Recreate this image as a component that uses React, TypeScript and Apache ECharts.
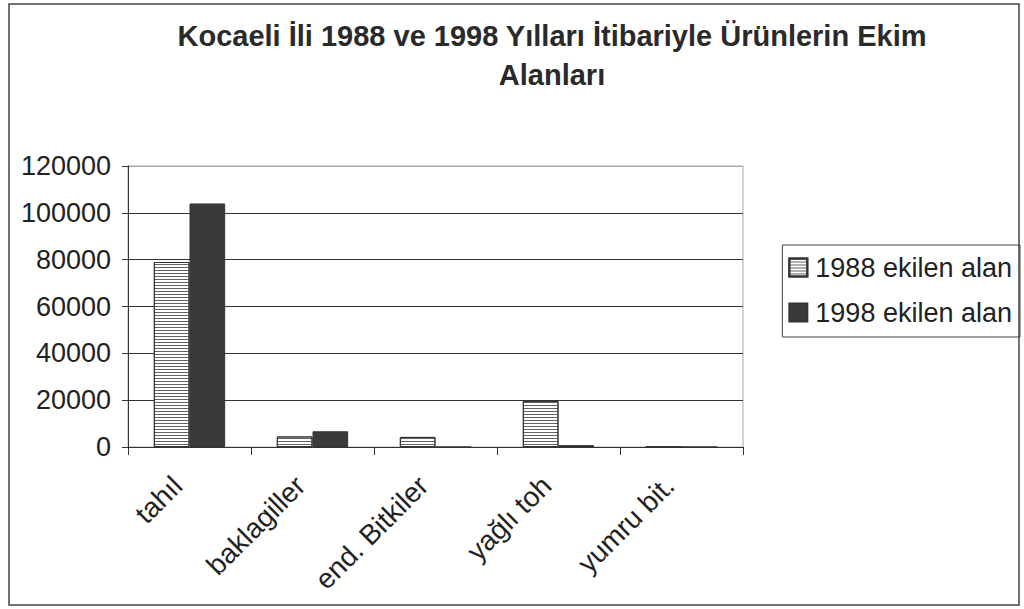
import React, { useEffect, useRef } from "react";
import * as echarts from "echarts";

const categories = ["tahıl", "baklagiller", "end. Bitkiler", "yağlı toh", "yumru bit."];
const values1988 = [79000, 4500, 4300, 19700, 0];
const values1998 = [104000, 6700, 0, 800, 0];
const seriesNames = ["1988 ekilen alan", "1998 ekilen alan"];
const titleText = "Kocaeli İli 1988 ve 1998 Yılları İtibariyle Ürünlerin Ekim\nAlanları";

export default function App() {
  const ref = useRef<HTMLDivElement>(null);
  useEffect(() => {
    if (!ref.current) return;
    const chart = echarts.init(ref.current, null, { renderer: "svg" });
    const font = "'Liberation Sans', Arial, sans-serif";
    const decal = {
      symbol: "rect",
      symbolSize: 1,
      dashArrayX: [1, 0],
      dashArrayY: [1, 2],
      color: "rgba(70,70,70,0.85)",
      rotation: 0,
    };
    chart.setOption({
      animation: false,
      backgroundColor: "#fff",
      textStyle: { fontFamily: font },
      title: {
        text: titleText,
        left: 547,
        textAlign: "center",
        top: 11,
        textStyle: {
          fontFamily: font,
          fontSize: 29,
          fontWeight: "bold",
          color: "#2a2a2a",
          lineHeight: 39,
        },
      },
      legend: {
        orient: "vertical",
        right: 4,
        top: 245,
        padding: [9, 8, 11, 6],
        itemGap: 18,
        itemWidth: 18,
        itemHeight: 18,
        borderColor: "#444",
        borderWidth: 1,
        icon: "rect",
        textStyle: { fontFamily: font, fontSize: 27, color: "#222", padding: [0, 0, 0, 3] },
        data: seriesNames,
      },
      grid: { left: 128, right: 281, top: 166, bottom: 162, show: true, borderColor: "#aaa", borderWidth: 1 },
      xAxis: {
        type: "category",
        data: categories,
        axisLine: { show: true, lineStyle: { color: "#333", width: 1 } },
        axisTick: { show: true, length: 8, lineStyle: { color: "#333" } },
        axisLabel: {
          rotate: 45,
          fontFamily: font,
          fontSize: 28,
          color: "#222",
          margin: 22,
          padding: [0, 17, 0, 0],
          interval: 0,
        },
      },
      yAxis: {
        type: "value",
        min: 0,
        max: 120000,
        interval: 20000,
        axisLine: { show: true, lineStyle: { color: "#333" } },
        axisTick: { show: true, length: 6, lineStyle: { color: "#333" } },
        splitLine: {
          show: true,
          lineStyle: { color: ["#333", "#333", "#333", "#333", "#333", "#333", "#aaa"], width: 1 },
        },
        axisLabel: {
          fontFamily: font,
          fontSize: 27,
          color: "#222",
          margin: 17,
          formatter: (v: number) => String(v),
        },
      },
      series: [
        {
          name: seriesNames[0],
          type: "bar",
          data: values1988,
          barGap: "0%",
          barCategoryGap: "42%",
          itemStyle: { color: "#ffffff", borderColor: "#333", borderWidth: 1, decal },
        },
        {
          name: seriesNames[1],
          type: "bar",
          data: values1998,
          itemStyle: { color: "#3a3a3a", borderColor: "#333", borderWidth: 1 },
        },
      ],
      graphic: [
        {
          type: "rect",
          shape: { x: 9, y: 4, width: 1010, height: 601 },
          style: { fill: "none", stroke: "#444", lineWidth: 1.5 },
          silent: true,
        },
      ],
    });
    return () => chart.dispose();
  }, []);
  return <div ref={ref} style={{ width: 1024, height: 609, position: "absolute", left: 0, top: 0 }} />;
}
